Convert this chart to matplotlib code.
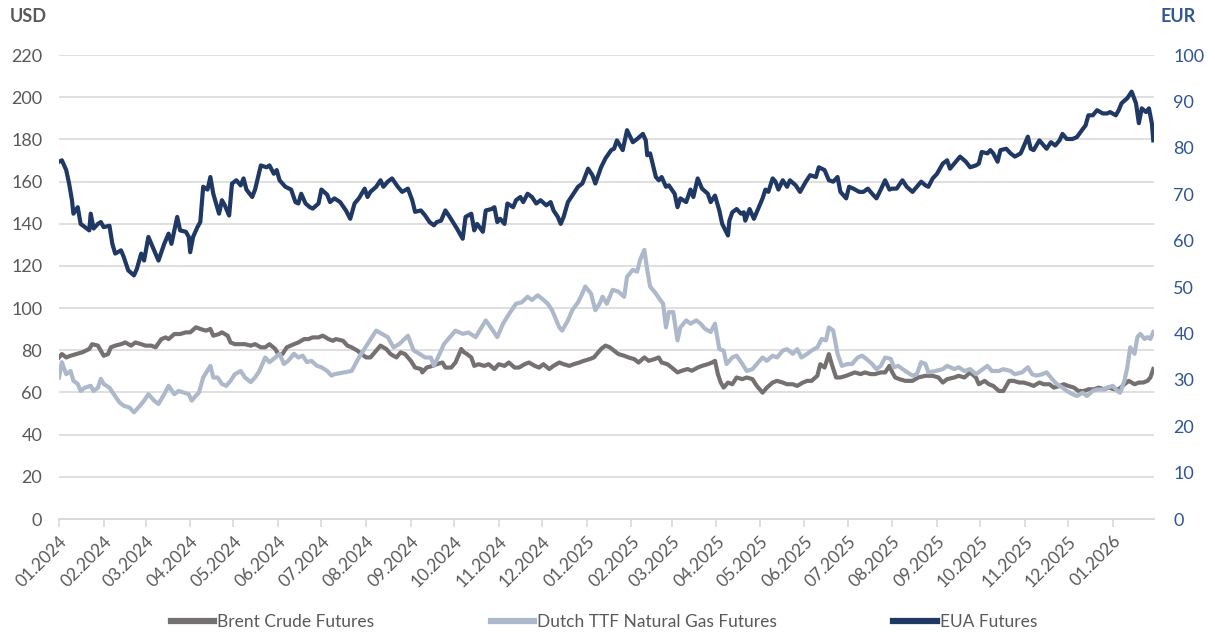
import pandas as pd
import matplotlib
matplotlib.use('Agg')
import matplotlib.pyplot as plt
import matplotlib.dates as mdates
from matplotlib.lines import Line2D

# days counted from 01.01.2024
start = pd.Timestamp('2024-01-01')

brent_day = [0, 2, 5, 8, 12, 16, 21, 23, 27, 29, 31, 34, 36, 39, 43, 46, 50, 53, 57, 60, 64, 67, 71, 74, 76,
             80, 84, 88, 91, 95, 98, 102, 105, 107, 111, 113, 117, 119, 122, 126, 129, 133, 136, 140, 143,
             146, 150, 152, 155, 158, 163, 166, 170, 173, 176, 180, 183, 187, 190,
             192, 197, 200, 203, 207, 210, 213, 216, 220, 223, 227, 230, 234, 237, 240, 244, 247, 251, 252,
             255, 259, 262, 266, 268, 272, 275, 279, 281, 283, 286, 288, 291, 295, 298, 302, 305, 309, 312,
             316, 319, 323, 326, 330, 333, 336, 340, 343, 347, 350, 354, 357, 361, 364, 368, 371, 373, 376, 379,
             382, 385, 388, 392, 395, 399, 402, 406, 409, 413, 416, 418, 422, 425, 429, 432, 436, 439, 443,
             446, 450, 453, 455, 457, 459, 461, 464, 467, 470, 474, 477, 481, 484, 488, 491, 495, 498, 502,
             505, 509, 512, 516, 519, 522, 526, 528, 531, 534, 536, 539, 542, 546, 549, 552, 556, 559, 563,
             566, 570, 573, 576,
             578, 580, 583, 587, 592, 596, 601, 606, 610, 613, 616, 621, 624, 628, 632, 636, 638, 642, 645,
             648, 652, 655, 659, 662, 666, 669, 673, 676, 680, 683, 687, 690, 694, 697, 700, 704, 707, 711,
             714, 718, 721, 725, 728, 732, 735, 739, 742, 746, 749, 752, 755, 757, 759]
brent_usd = [76.6, 78.2, 76.6, 77.4, 78.2, 79.0, 80.6, 82.9, 82.2, 79.8, 77.4, 78.2, 81.4, 82.2, 82.9, 83.7,
             82.2, 83.7, 82.9, 82.2, 82.2, 81.4, 85.3, 86.1, 85.3, 87.7, 87.7, 88.5, 88.5, 90.9, 90.1, 89.3,
             90.1, 86.9, 87.7, 88.5, 86.9, 83.7, 82.9, 82.9, 82.9, 82.2, 82.9, 81.4, 81.4, 82.9, 80.6, 78.2,
             78.2, 81.4, 82.9, 83.7, 85.3, 85.3, 86.1, 86.1, 86.9, 85.3, 84.5,
             85.3, 84.5, 82.2, 81.4, 79.8, 78.2, 76.6, 76.6, 79.8, 82.2, 80.6, 78.2, 76.6, 79.0, 78.2, 75.0,
             71.8, 71.1, 69.5, 71.8, 72.6, 73.4, 74.2, 71.8, 71.8, 74.2, 80.6, 79.0, 78.2, 76.6, 72.6, 73.4,
             72.6, 73.4, 71.1, 73.4, 72.6, 74.2, 71.8, 71.8, 73.4, 74.2, 72.6, 71.8, 73.4, 71.1, 72.6, 74.2,
             73.4, 72.6, 73.4, 74.2, 75.0, 75.8, 76.6, 78.2, 80.6, 82.2,
             81.4, 79.8, 78.2, 77.4, 76.6, 75.8, 74.2, 76.6, 75.0, 75.8, 76.6, 74.2, 73.4, 71.8, 69.5, 70.3,
             71.1, 70.3, 71.8, 72.6, 73.4, 74.2, 75.0, 68.7, 64.7, 62.3, 64.7, 63.9, 67.1, 66.3, 67.1, 66.3,
             63.1, 59.9, 62.3, 64.7, 65.5, 64.7, 63.9, 63.9, 63.1, 64.7, 65.5, 65.5, 67.9, 73.4, 71.8, 78.2,
             73.4, 67.1, 67.1, 67.9, 68.7, 69.5, 68.7, 69.5, 68.7, 68.7, 69.5, 69.5, 72.6,
             69.5, 67.1, 66.3, 65.5, 65.5, 67.1, 67.9, 67.9, 67.1, 64.7, 66.3, 67.1, 67.9, 67.1, 69.5, 67.1,
             63.9, 65.5, 63.9, 63.1, 60.7, 60.7, 65.5, 65.5, 64.7, 64.7, 63.9, 63.1, 64.7, 63.9, 63.9, 62.3,
             63.1, 63.9, 63.1, 62.3, 60.7, 60.7, 61.5, 61.5, 62.3, 61.5, 62.3, 61.5, 61.5, 63.9, 65.5, 63.9,
             64.7, 64.7, 65.5, 67.1, 71.1]

ttf_day = [0, 2, 5, 8, 10, 13, 15, 18, 22, 24, 27, 29, 31, 35, 38, 42, 45, 49, 52, 55, 59, 62, 66, 69, 73,
           76, 80, 83, 87, 90, 92, 95, 97, 100, 105, 107, 110, 113, 116, 119, 122, 126, 129, 133, 136, 139,
           143, 146, 150, 153, 156, 159, 163, 166, 169, 172, 175, 179, 182, 186, 189,
           191, 203, 208, 220, 224, 228, 232, 236, 242, 246, 250, 254, 258, 260, 264, 267, 275, 280, 284,
           289, 296, 301, 304, 308, 313, 317, 321, 325, 328, 332, 335, 339, 342, 347, 349, 353, 356, 360,
           363, 365, 369, 372, 375, 377, 380, 384,
           388, 392, 394, 398, 401, 403, 406, 408, 410, 414, 417, 419, 421, 423, 426, 429, 431, 435, 438,
           442, 445, 448, 452, 455, 458, 461, 463, 467, 470, 474, 477, 481, 484, 488, 491, 495, 498, 502,
           505, 509, 512, 515, 519, 522, 526, 529, 532, 534, 537, 540, 543, 547, 550, 554, 557, 560, 564,
           567, 570, 573, 577,
           579, 582, 587, 592, 595, 598, 601, 603, 608, 613, 616, 621, 624, 628, 632, 636, 639, 644, 647,
           652, 655, 660, 663, 668, 672, 675, 678, 682, 685, 689, 692, 696, 699, 703, 706, 710, 713, 717,
           720, 724, 727, 731, 734, 736, 739, 741, 743, 746, 748, 750, 753, 755, 757, 759]
ttf_eur = [30.5, 33.8, 31.2, 31.9, 29.8, 29.1, 27.6, 28.3, 28.7, 27.6, 28.3, 30.2, 29.1, 28.3, 26.9, 25.1,
           24.4, 24.0, 23.0, 24.0, 25.5, 26.9, 25.5, 24.8, 26.9, 28.7, 26.9, 27.6, 27.2, 26.9, 25.5, 26.6,
           27.2, 30.5, 33.0, 30.5, 30.5, 29.1, 28.7, 29.8, 31.2, 31.9, 30.5, 29.5, 30.5, 31.9, 34.8, 33.8,
           34.8, 35.6, 33.4, 34.1, 35.6, 34.8, 35.2, 33.8, 34.1, 33.0, 32.7, 31.9, 30.9,
           31.2, 31.9, 34.8, 40.6, 39.9, 39.2, 37.0, 37.7, 39.5, 36.3, 35.6, 34.8, 34.8, 33.0, 35.6, 37.7,
           40.6, 39.9, 40.2, 39.2, 42.8, 40.6, 39.2, 42.1, 44.6, 46.4, 46.7, 47.9, 47.2, 48.2, 47.5, 46.4,
           45.0, 41.3, 40.6, 42.8, 45.0, 46.7, 48.6, 50.1, 48.6, 45.0, 46.4, 47.9, 46.4, 49.4,
           49.0, 47.9, 52.2, 53.7, 53.3, 55.8, 58.0, 53.7, 50.1, 48.6, 47.2, 46.4, 41.3, 44.6, 44.6, 38.5,
           41.3, 42.8, 42.1, 42.8, 42.1, 41.0, 40.3, 42.1, 36.6, 36.3, 33.4, 34.8, 35.2, 33.4, 31.9, 32.3,
           33.4, 34.8, 34.1, 35.2, 34.8, 36.3, 36.6, 35.6, 36.6, 34.8, 35.6, 36.3, 37.0, 38.8, 38.5, 41.3,
           40.6, 35.6, 33.0, 33.4, 33.4, 34.8, 35.2, 34.5, 33.4, 32.3, 33.0, 34.8, 34.5,
           32.7, 33.0, 31.9, 30.9, 31.2, 33.8, 33.4, 31.6, 31.9, 32.3, 33.0, 32.3, 32.7, 31.9, 32.3, 31.2,
           31.9, 33.0, 31.9, 31.9, 32.3, 31.9, 31.2, 31.6, 32.7, 31.2, 30.9, 31.2, 31.6, 30.1, 29.1, 28.3,
           27.6, 26.9, 26.5, 27.2, 26.5, 27.6, 27.9, 27.9, 28.3, 28.7, 27.6, 27.2, 29.8, 32.7, 37.0, 35.6,
           39.2, 39.9, 38.8, 39.2, 38.8, 40.3]

eua_day = [0, 2, 5, 7, 9, 10, 13, 15, 18, 21, 22, 24, 27, 29, 31, 35, 37, 39, 43, 45, 48, 52, 54, 57, 59,
           62, 66, 69, 73, 76, 78, 82, 84, 88, 90, 91, 93, 96, 98, 100, 103, 105, 107, 111, 113, 115, 118,
           120, 123, 126, 128, 130, 134, 136, 140, 144, 146, 149, 151, 153, 157, 161, 164, 166, 168, 171,
           174, 176, 180, 182, 186, 188, 191,
           195, 199, 202, 205, 208, 212, 214, 216, 220, 223, 225, 228, 231, 235, 238, 242, 245, 247, 251,
           254, 257, 260, 262, 265, 268, 271, 274, 276, 280, 282, 286, 288, 290, 294, 296, 300, 302, 304,
           306, 309, 311, 315, 317, 320, 322, 325, 328, 331, 334, 338, 341, 343, 346, 348, 350, 353, 356,
           360, 363, 367, 370, 372, 376, 379, 383, 385,
           387, 391, 394, 398, 401, 405, 407, 408, 410, 414, 416, 418, 421, 423, 427, 429, 431, 435, 438,
           440, 443, 446, 450, 452, 455, 458, 460, 464, 465, 467, 470, 473, 475, 476, 479, 482, 486, 488,
           490, 492, 495, 497, 499, 502, 505, 507, 511, 514, 518, 521, 525, 527, 531, 534, 537, 540, 542,
           546, 548, 551, 555, 558, 561, 564, 567, 570, 573, 576,
           578, 581, 585, 588, 592, 595, 598, 601, 603, 606, 609, 613, 616, 618, 622, 625, 629, 632, 636,
           638, 640, 644, 646, 648, 651, 653, 657, 660, 663, 667, 669, 672, 674, 676, 680, 683, 685, 688,
           691, 694, 696, 699, 703, 706, 710, 712, 714, 717, 720, 724, 727, 729, 733, 735, 737, 741, 744,
           747, 749, 751, 754, 756, 758, 759]
eua_eur = [77.0, 77.3, 75.2, 72.3, 68.7, 65.8, 67.2, 63.6, 62.9, 62.2, 65.8, 62.6, 63.6, 64.0, 62.9, 63.2,
           59.3, 57.2, 57.9, 56.4, 53.6, 52.5, 53.9, 57.2, 55.7, 60.8, 57.9, 55.7, 59.3, 61.5, 59.3, 65.1,
           62.2, 61.9, 60.8, 57.5, 60.8, 62.9, 64.0, 71.6, 71.0, 73.7, 70.1, 65.8, 68.7, 67.6, 65.4, 72.3,
           73.0, 71.9, 73.4, 71.0, 69.4, 71.0, 76.2, 75.8, 76.2, 74.4, 75.2, 73.0, 71.6, 71.0, 68.3, 68.0,
           70.1, 68.0, 67.2, 66.9, 68.0, 71.0, 69.9, 68.3, 69.1,
           68.3, 66.5, 64.7, 68.0, 69.1, 71.2, 69.4, 70.5, 71.6, 73.0, 71.6, 72.7, 73.4, 71.6, 70.5, 71.2,
           68.7, 66.2, 66.5, 65.4, 64.0, 63.3, 64.0, 64.3, 66.5, 65.1, 63.6, 62.6, 60.4, 65.1, 65.8, 62.2,
           63.6, 61.9, 66.5, 66.8, 67.2, 64.0, 64.7, 63.6, 68.0, 67.2, 68.7, 69.4, 68.3, 70.1, 69.4, 68.0,
           68.7, 67.6, 68.3, 66.5, 65.1, 63.6, 65.1, 68.3, 69.7, 71.6, 72.3, 75.5, 74.1, 72.3, 75.8, 77.7,
           79.5, 79.8,
           81.6, 79.5, 83.8, 81.2, 81.9, 83.0, 81.6, 78.4, 78.8, 73.7, 73.0, 73.7, 71.6, 71.9, 70.1, 67.2,
           69.1, 68.3, 71.0, 69.4, 73.4, 71.2, 70.1, 68.3, 69.7, 66.5, 63.6, 61.1, 64.3, 66.1, 66.8, 65.8,
           66.1, 64.3, 66.8, 64.7, 67.6, 69.1, 71.0, 70.5, 73.4, 72.7, 71.0, 73.0, 71.6, 73.0, 71.9, 70.5,
           72.7, 74.1, 73.7, 75.8, 75.2, 73.0, 72.7, 73.7, 70.5, 69.1, 71.6, 71.2, 70.5, 70.5, 71.2, 70.1,
           69.1, 71.0, 73.0, 71.0,
           71.2, 71.2, 73.0, 71.6, 70.5, 71.6, 72.7, 71.9, 71.6, 73.4, 74.4, 76.6, 77.3, 75.5, 77.0, 78.1,
           77.0, 75.8, 76.2, 76.6, 79.1, 78.8, 79.5, 78.8, 77.0, 79.5, 79.8, 78.8, 78.1, 78.8, 80.2, 82.4,
           79.8, 79.5, 81.6, 80.5, 79.8, 81.2, 80.5, 81.6, 83.0, 81.9, 81.9, 82.3, 84.0, 84.8, 87.0, 87.0,
           88.1, 87.4, 87.4, 87.7, 87.0, 88.1, 89.6, 90.7, 92.1, 89.6, 85.3, 88.5, 87.7, 88.5, 85.3, 81.6]

usd_ticks = list(range(0, 221, 20))
eur_ticks = list(range(0, 101, 10))
month_ticks = pd.date_range('2024-01-01', '2026-01-01', freq='MS')
series_names = ['Brent Crude Futures', 'Dutch TTF Natural Gas Futures', 'EUA Futures']

c_brent = '#767171'
c_ttf = '#ADB9CA'
c_eua = '#1F3864'
c_grey = '#595959'
c_blue = '#2F5597'

plt.rcParams['font.family'] = ['Lato', 'DejaVu Sans']

def to_dates(days):
    return start + pd.to_timedelta(days, unit='D')

fig = plt.figure(figsize=(12.15, 6.34), dpi=100)
ax = fig.add_axes([59 / 1215, 1 - 519 / 634, (1154 - 59) / 1215, (519 - 55) / 634])
ax2 = ax.twinx()

ax.plot(to_dates(brent_day), brent_usd, color=c_brent, lw=3.0, solid_joinstyle='round')
ax2.plot(to_dates(ttf_day), ttf_eur, color=c_ttf, lw=3.0, solid_joinstyle='round')
ax2.plot(to_dates(eua_day), eua_eur, color=c_eua, lw=3.0, solid_joinstyle='round')

ax.set_ylim(0, 220)
ax2.set_ylim(0, 100)
ax.set_yticks(usd_ticks)
ax2.set_yticks(eur_ticks)
ax.set_xlim(start, start + pd.Timedelta(days=759.5))

ax.grid(axis='y', color='#D9D9D9', lw=1.2)
ax.set_axisbelow(True)
ax2.grid(False)

for a in (ax, ax2):
    for s in ('top', 'left', 'right'):
        a.spines[s].set_visible(False)
    a.spines['bottom'].set_color('#D9D9D9')
    a.spines['bottom'].set_linewidth(1.2)

ax.tick_params(axis='y', length=0, pad=12, labelsize=13, labelcolor=c_grey)
ax2.tick_params(axis='y', length=0, pad=14, labelsize=13, labelcolor=c_blue)

ax.set_xticks(month_ticks)
ax.xaxis.set_major_formatter(mdates.DateFormatter('%m.%Y'))
ax.tick_params(axis='x', length=6, width=1.2, color='#D9D9D9', labelsize=12.5, labelcolor=c_grey, pad=4)
for lab in ax.get_xticklabels():
    lab.set_rotation(45)
    lab.set_ha('right')
    lab.set_va('top')
    lab.set_rotation_mode('anchor')

fig.text(10 / 1215, 1 - 16 / 634, 'USD', fontsize=13, fontweight='bold', color=c_grey, va='center', ha='left')
fig.text(1161 / 1215, 1 - 16 / 634, 'EUR', fontsize=13, fontweight='bold', color=c_blue, va='center', ha='left')

handles = [Line2D([], [], color=c, lw=4.5) for c in (c_brent, c_ttf, c_eua)]
fig.legend(handles, series_names, loc='center', bbox_to_anchor=(0.497, 1 - 622 / 634), ncol=3,
           frameon=False, fontsize=12.5, handlelength=2.5, handletextpad=0.17, columnspacing=6.7,
           labelcolor=c_grey)

fig.savefig('out.png', dpi=100)
